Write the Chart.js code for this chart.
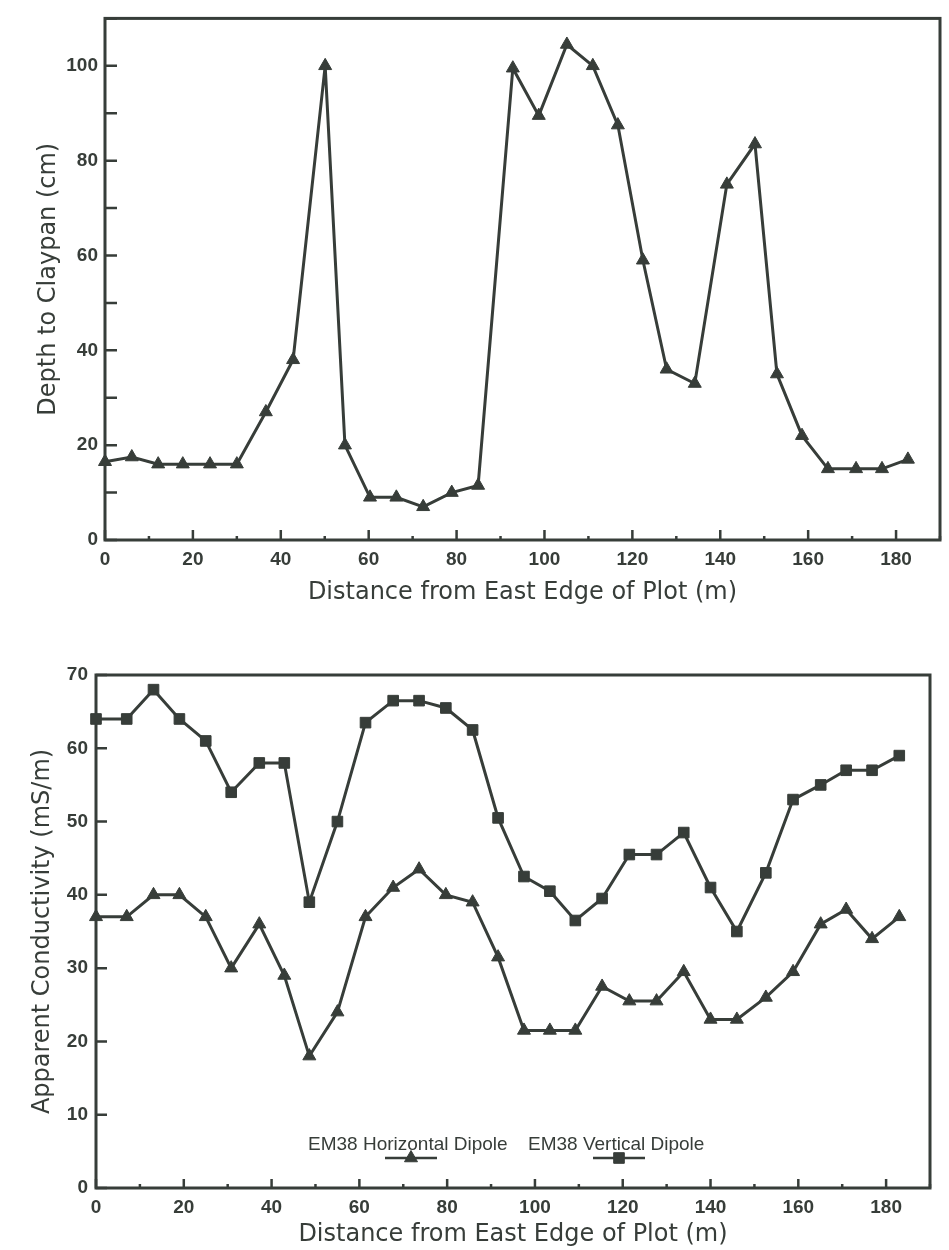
<!DOCTYPE html>
<html>
<head>
<meta charset="utf-8">
<title>Depth to claypan and EM38 apparent conductivity</title>
<script src="https://cdn.jsdelivr.net/npm/chart.js@4.4.1/dist/chart.umd.min.js"></script>
<style>
  body { margin: 0; background: #fff; }
  .wrap { position: relative; width: 949px; height: 1250px; }
  canvas { position: absolute; left: 0; }
  #depthChart { top: 0; }
  #emChart { top: 640px; }
</style>
</head>
<body>
<div class="wrap">
  <canvas id="depthChart" width="949" height="620"></canvas>
  <canvas id="emChart" width="949" height="610"></canvas>
</div>
<script>
// Top panel: depth to claypan along the transect (m from east edge)
const depthDistance = [0, 6.1, 12.1, 17.7, 23.9, 30.0, 36.6, 42.8, 50.1, 54.6, 60.3, 66.3, 72.4, 78.9, 84.9,
    92.8, 98.7, 105.1, 111.0, 116.7, 122.4, 127.8, 134.2, 141.5, 147.9, 152.9, 158.6, 164.5, 170.9, 176.8, 182.7];
const depthToClaypan = [16.5, 17.5, 16, 16, 16, 16, 27, 38, 100, 20, 9, 9, 7, 10, 11.5,
    99.5, 89.5, 104.5, 100, 87.5, 59, 36, 33, 75, 83.5, 35, 22, 15, 15, 15, 17];

// Bottom panel: EM38 readings (mS/m)
const emDistance = [0, 7.0, 13.1, 19.0, 25.0, 30.8, 37.2, 42.9, 48.6, 55.0, 61.4, 67.7, 73.6, 79.7, 85.8,
    91.6, 97.5, 103.4, 109.2, 115.3, 121.5, 127.7, 133.9, 140.0, 146.0, 152.6, 158.8, 165.1, 170.9, 176.8, 183.0];
const emHorizontal = [37, 37, 40, 40, 37, 30, 36, 29, 18, 24, 37, 41, 43.5, 40, 39,
    31.5, 21.5, 21.5, 21.5, 27.5, 25.5, 25.5, 29.5, 23, 23, 26, 29.5, 36, 38, 34, 37];
const emVertical = [64, 64, 68, 64, 61, 54, 58, 58, 39, 50, 63.5, 66.5, 66.5, 65.5, 62.5,
    50.5, 42.5, 40.5, 36.5, 39.5, 45.5, 45.5, 48.5, 41, 35, 43, 53, 55, 57, 57, 59];

// labelled ticks (the unlabelled ones in between are minor ticks)
const distanceTickLabels = [0, 20, 40, 60, 80, 100, 120, 140, 160, 180];
const depthTickLabels = [0, 20, 40, 60, 80, 100];
const conductivityTickLabels = [0, 10, 20, 30, 40, 50, 60, 70];

const INK = '#373d39';
const TICK_FONT = { family: '"Liberation Sans", Arial, sans-serif', size: 19, weight: 'bold' };
const TITLE_FONT = { family: '"DejaVu Sans", sans-serif', size: 24, weight: 'normal' };

// boxed plot area with tick marks pointing inward, like the original figure
const frameAndTicks = {
    id: 'frameAndTicks',
    beforeDatasetsDraw(chart, args, opts) {
        const { ctx, chartArea: a } = chart;
        const xs = chart.scales.x;
        const ys = chart.scales.y;

        ctx.save();
        ctx.strokeStyle = INK;
        ctx.lineWidth = 2.5;
        ctx.beginPath();
        xs.ticks.forEach(t => {
            const px = xs.getPixelForValue(t.value);
            const len = distanceTickLabels.includes(t.value) ? opts.xMajor : opts.xMinor;
            ctx.moveTo(px, a.bottom);
            ctx.lineTo(px, a.bottom - len);
        });
        ys.ticks.forEach(t => {
            const py = ys.getPixelForValue(t.value);
            ctx.moveTo(a.left, py);
            ctx.lineTo(a.left + opts.yLen, py);
        });
        ctx.stroke();

        ctx.lineWidth = 3;
        ctx.strokeRect(a.left, a.top, a.right - a.left, a.bottom - a.top);
        ctx.restore();
    }
};

// legend drawn inside the plot: label text with a short line + marker under it
const lineLegend = {
    id: 'lineLegend',
    afterDatasetsDraw(chart, args, opts) {
        if (!opts.items) return;
        const { ctx } = chart;
        ctx.save();
        ctx.font = opts.font;
        ctx.textBaseline = 'middle';
        chart.data.datasets.forEach((ds, i) => {
            const it = opts.items[i];
            ctx.fillStyle = INK;
            ctx.fillText(ds.label, it.textX, opts.textY);

            ctx.strokeStyle = ds.borderColor;
            ctx.lineWidth = 2.5;
            ctx.beginPath();
            ctx.moveTo(it.markX - opts.halfLine, opts.lineY);
            ctx.lineTo(it.markX + opts.halfLine, opts.lineY);
            ctx.stroke();

            ctx.fillStyle = ds.pointBackgroundColor;
            ctx.lineWidth = 1;
            Chart.helpers.drawPoint(ctx, {
                pointStyle: ds.pointStyle,
                radius: ds.pointRadius,
                rotation: 0,
                borderWidth: 1
            }, it.markX, opts.lineY);
        });
        ctx.restore();
    }
};

function series(label, xs, ys, style) {
    return {
        label: label,
        data: xs.map((x, i) => ({ x: x, y: ys[i] })),
        borderColor: INK,
        backgroundColor: INK,
        borderWidth: 3,
        pointStyle: style,
        pointRadius: 7.5,
        pointBackgroundColor: INK,
        pointBorderColor: INK,
        pointBorderWidth: 1,
        tension: 0,
        clip: false
    };
}

function buildOptions(cfg) {
    return {
        responsive: false,
        animation: false,
        layout: { padding: cfg.padding },
        plugins: {
            legend: { display: false },
            tooltip: { enabled: false },
            frameAndTicks: cfg.ticks,
            lineLegend: cfg.legend || {}
        },
        scales: {
            x: {
                type: 'linear',
                min: 0,
                max: 190,
                grid: { display: false, drawTicks: false },
                border: { display: false },
                ticks: {
                    stepSize: 10,
                    autoSkip: false,
                    maxRotation: 0,
                    padding: 8,
                    color: INK,
                    font: TICK_FONT,
                    callback: v => distanceTickLabels.includes(v) ? String(v) : ''
                },
                title: {
                    display: true,
                    text: 'Distance from East Edge of Plot (m)',
                    color: INK,
                    font: TITLE_FONT,
                    padding: { top: 0, bottom: cfg.xTitlePad }
                },
                afterFit: s => { s.height = cfg.xHeight; }
            },
            y: {
                min: 0,
                max: cfg.yMax,
                grid: { display: false, drawTicks: false },
                border: { display: false },
                ticks: {
                    stepSize: 10,
                    autoSkip: false,
                    padding: cfg.yTickPad,
                    color: INK,
                    font: TICK_FONT,
                    callback: v => cfg.yLabels.includes(v) ? String(v) : ''
                },
                title: {
                    display: true,
                    text: cfg.yTitle,
                    color: INK,
                    font: TITLE_FONT,
                    padding: { top: cfg.yTitlePad, bottom: 0 }
                },
                afterFit: s => { s.width = cfg.yWidth; }
            }
        }
    };
}

new Chart(document.getElementById('depthChart'), {
    type: 'line',
    data: {
        datasets: [series('Depth to Claypan', depthDistance, depthToClaypan, 'triangle')]
    },
    options: buildOptions({
        padding: { top: 13, right: 9, bottom: 0, left: 0 },
        yMax: 110,
        yLabels: depthTickLabels,
        yTitle: 'Depth to Claypan (cm)',
        yWidth: 105,
        yTickPad: 7,
        yTitlePad: 34,
        xHeight: 80,
        xTitlePad: 13,
        ticks: { xMajor: 10, xMinor: 4, yLen: 12 }
    }),
    plugins: [frameAndTicks]
});

new Chart(document.getElementById('emChart'), {
    type: 'line',
    data: {
        datasets: [
            series('EM38 Horizontal Dipole', emDistance, emHorizontal, 'triangle'),
            series('EM38 Vertical Dipole', emDistance, emVertical, 'rect')
        ]
    },
    options: buildOptions({
        padding: { top: 35, right: 19, bottom: 0, left: 0 },
        yMax: 70,
        yLabels: conductivityTickLabels,
        yTitle: 'Apparent Conductivity (mS/m)',
        yWidth: 96,
        yTickPad: 8,
        yTitlePad: 28,
        xHeight: 62,
        xTitlePad: 1,
        ticks: { xMajor: 9, xMinor: 4, yLen: 11 },
        legend: {
            font: '19px "Liberation Sans", Arial, sans-serif',
            textY: 505,
            lineY: 518,
            halfLine: 26,
            items: [
                { textX: 308, markX: 411 },
                { textX: 528, markX: 619 }
            ]
        }
    }),
    plugins: [frameAndTicks, lineLegend]
});
</script>
</body>
</html>
